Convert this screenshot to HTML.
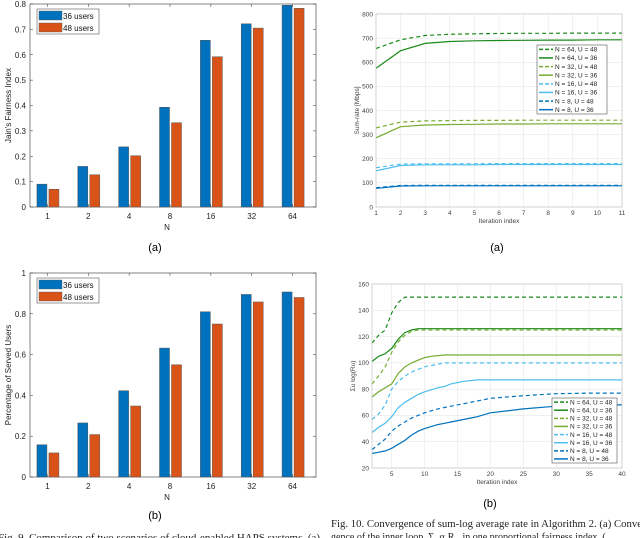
<!DOCTYPE html>
<html><head><meta charset="utf-8"><style>
body{margin:0;background:#fff;}
svg{display:block;font-family:"Liberation Sans",sans-serif;}
</style></head><body>
<svg id="fig" width="640" height="538" viewBox="0 0 640 538" xmlns="http://www.w3.org/2000/svg">
<rect width="640" height="538" fill="#fff"/>
<text x="155" y="251" font-size="11" text-anchor="middle">(a)</text>
<text x="155" y="519" font-size="11" text-anchor="middle">(b)</text>
<text x="497" y="251" font-size="11" text-anchor="middle">(a)</text>
<text x="490" y="507" font-size="11" text-anchor="middle">(b)</text>
<text x="-2" y="541" font-size="10" font-family="Liberation Serif,serif" fill="#222" textLength="322" lengthAdjust="spacingAndGlyphs">Fig. 9.  Comparison of two scenarios of cloud-enabled HAPS systems. (a)</text>
<text x="331" y="527" font-size="10" font-family="Liberation Serif,serif" fill="#222" textLength="318" lengthAdjust="spacingAndGlyphs">Fig. 10.  Convergence of sum-log average rate in Algorithm 2. (a) Conver-</text>
<text x="331" y="540" font-size="10" font-family="Liberation Serif,serif" fill="#222">gence of the inner loop, Σ<tspan font-size="6" dy="2">u</tspan><tspan dy="-2"> α</tspan><tspan font-size="6" dy="2">u</tspan><tspan dy="-2">R</tspan><tspan font-size="6" dy="2">u</tspan><tspan dy="-2">, in one proportional fairness index. (</tspan></text>
</svg>
<script>
const categories = ["1","2","4","8","16","32","64"];
const fairness36 = [0.09,0.16,0.237,0.393,0.657,0.722,0.795];
const fairness48 = [0.07,0.127,0.202,0.332,0.592,0.705,0.783];
const fairnessTicks = [0,0.1,0.2,0.3,0.4,0.5,0.6,0.7,0.8];
const served36 = [0.158,0.265,0.423,0.632,0.81,0.895,0.907];
const served48 = [0.118,0.208,0.348,0.55,0.75,0.858,0.88];
const servedTicks = [0,0.2,0.4,0.6,0.8,1];

const iterA = [1,2,3,4,5,6,7,8,9,10,11];
const rateN64U48 = [657,693,711,716,718,719,720,720,721,721,721];
const rateN64U36 = [575,648,678,686,689,690,691,692,692,693,693];
const rateN32U48 = [328,352,357,358,359,359,360,360,360,360,360];
const rateN32U36 = [287,333,340,342,343,344,344,345,345,345,345];
const rateN16U48 = [163,178,179,179,179,180,180,180,180,180,180];
const rateN16U36 = [150,172,175,175,175,176,176,176,176,176,176];
const rateN8U48 = [80,89,90,90,90,90,90,90,90,90,90];
const rateN8U36 = [77,87,88,88,88,88,88,88,88,88,88];
const rateYTicks = [0,100,200,300,400,500,600,700,800];

const iterB = [2,3,4,5,6,7,8,9,10,11,12,13,14,16,18,20,25,30,35,40];
const logN64U48 = [115,121,125,138,146,150,150,150,150,150,150,150,150,150,150,150,150,150,150,150];
const logN64U36 = [101,105,107,111,118,123,125,126,126,126,126,126,126,126,126,126,126,126,126,126];
const logN32U48 = [84,90,97,108,116,121,124,125,125,125,125,125,125,125,125,125,125,125,125,125];
const logN32U36 = [74,78,81,84,92,97,100,102,104,105,105.5,106,106,106,106,106,106,106,106,106];
const logN16U48 = [57,61,68,80,86,90,93,95,97,98,99,100,100,100,100,100,100,100,100,100];
const logN16U36 = [47,51,54,59,66,70,73,76,78,79.5,81,82,84,86,87,87,87,87,87,87];
const logN8U48 = [34,38,42,48,52,55,58,60,62,63.5,65,66,67,69,71,73,75,76.5,77,77];
const logN8U36 = [31,32,33,35,38,41,45,48,50,51.5,53,54,55,57,59,62,65,67,68,68];
const logXTicks = [5,10,15,20,25,30,35,40];
const logYTicks = [20,40,60,80,100,120,140,160];

const legendLabels = ["N = 64, U = 48","N = 64, U = 36","N = 32, U = 48","N = 32, U = 36","N = 16, U = 48","N = 16, U = 36","N = 8, U = 48","N = 8, U = 36"];

const NS="http://www.w3.org/2000/svg";
const svg=document.getElementById('fig');
function mk(tag,attrs,parent,text){const e=document.createElementNS(NS,tag);for(const k in attrs)e.setAttribute(k,attrs[k]);if(text!==undefined)e.textContent=text;(parent||svg).appendChild(e);return e;}
function lin(d0,d1,r0,r1){return v=>r0+(v-d0)*(r1-r0)/(d1-d0);}

function barChart(name,left,top,right,bottom,ymax,ticks,s1,s2,ylabel){
  const g=mk('g',{});
  
  
  const y=lin(0,ymax,bottom,top);
  const step=(right-left)/categories.length;
  const cx=i=>left+step*(i+0.5)-3;
  mk('rect',{x:left,y:top,width:right-left,height:bottom-top,fill:'none',stroke:'#333','stroke-width':0.6},g);
  ticks.forEach(t=>{
    const yy=y(t);
    mk('line',{x1:left,x2:left+3,y1:yy,y2:yy,stroke:'#333','stroke-width':0.5},g);
    mk('line',{x1:right-3,x2:right,y1:yy,y2:yy,stroke:'#333','stroke-width':0.5},g);
    const tl=mk('text',{x:left-4,y:yy+3,'font-size':8,'text-anchor':'end',fill:'#222'},g,String(t));
    
    
  });
  categories.forEach((c,i)=>{
    const b1=mk('rect',{x:cx(i)-10.5,y:y(s1[i]),width:10,height:bottom-y(s1[i]),fill:'#0072bd',stroke:'#555','stroke-width':0.5},g);
    
    
    const b2=mk('rect',{x:cx(i)+1.5,y:y(s2[i]),width:10,height:bottom-y(s2[i]),fill:'#d95319',stroke:'#555','stroke-width':0.5},g);
    
    
    mk('line',{x1:cx(i),x2:cx(i),y1:bottom,y2:bottom-3,stroke:'#333','stroke-width':0.5},g);
    mk('line',{x1:cx(i),x2:cx(i),y1:top,y2:top+3,stroke:'#333','stroke-width':0.5},g);
    const xl=mk('text',{x:cx(i),y:bottom+12,'font-size':8,'text-anchor':'middle',fill:'#222'},g,c);
    
    
  });
  const xt=mk('text',{x:(left+right)/2-6,y:bottom+23,'font-size':8,'text-anchor':'middle',fill:'#222'},g,'N');
  
  
  const yt=mk('text',{x:0,y:0,'font-size':8,'text-anchor':'middle',fill:'#222',transform:`translate(${left-19},${(top+bottom)/2}) rotate(-90)`},g,ylabel);
  
  
  const lg=mk('g',{},g);
  
  
  mk('rect',{x:left+7,y:top+5,width:62,height:25,fill:'#fff',stroke:'#333','stroke-width':0.5},lg);
  [['#0072bd','36 users'],['#d95319','48 users']].forEach((e,k)=>{
    mk('rect',{x:left+9,y:top+7+k*12,width:23,height:9,fill:e[0],stroke:'#555','stroke-width':0.4},lg);
    mk('text',{x:left+33,y:top+15+k*12,'font-size':8,fill:'#111'},lg,e[1]);
  });
}
barChart('fairness-bar-chart',30,4,316,207,0.8,fairnessTicks,fairness36,fairness48,"Jain's Fairness Index");
barChart('served-users-bar-chart',30,273,316,477,1,servedTicks,served36,served48,'Percentage of Served Users');

const lineColors=['#1a8a1a','#1a8a1a','#77ac30','#77ac30','#4dbeee','#4dbeee','#0072bd','#0072bd'];
const lineDash=['4,3','none','4,3','none','4,3','none','4,3','none'];
function lineChart(name,left,top,right,bottom,xd,yd,xticks,yticks,xs,series,xlabel,ylabel,leg){
  const g=mk('g',{});
  
  
  const x=lin(xd[0],xd[1],left,right), y=lin(yd[0],yd[1],bottom,top);
  mk('rect',{x:left,y:top,width:right-left,height:bottom-top,fill:'#fff'},g);
  xticks.forEach(t=>{
    mk('line',{x1:x(t),x2:x(t),y1:top,y2:bottom,stroke:'#e3e3e3','stroke-width':0.5},g);
    const tl=mk('text',{x:x(t),y:bottom+8,'font-size':6.5,'text-anchor':'middle',fill:'#444'},g,String(t));
    
    
  });
  yticks.forEach(t=>{
    mk('line',{x1:left,x2:right,y1:y(t),y2:y(t),stroke:'#e3e3e3','stroke-width':0.5},g);
    const tl=mk('text',{x:left-3,y:y(t)+2.3,'font-size':6.5,'text-anchor':'end',fill:'#444'},g,String(t));
    
    
  });
  series.forEach((s,k)=>{
    const p=mk('polyline',{points:s.map((v,i)=>x(xs[i]).toFixed(1)+','+y(v).toFixed(1)).join(' '),fill:'none',stroke:lineColors[k],'stroke-width':1.2,'stroke-dasharray':lineDash[k]},g);
    
    
  });
  mk('rect',{x:left,y:top,width:right-left,height:bottom-top,fill:'none',stroke:'#bbb','stroke-width':0.6},g);
  const xt=mk('text',{x:(left+right)/2,y:bottom+16,'font-size':6.5,'text-anchor':'middle',fill:'#444'},g,xlabel);
  
  
  const yt=mk('text',{x:0,y:0,'font-size':6.5,'text-anchor':'middle',fill:'#444',transform:`translate(${left-17},${(top+bottom)/2}) rotate(-90)`},g,ylabel);
  
  
  const lg=mk('g',{},g);
  
  
  mk('rect',{x:leg[0],y:leg[1],width:leg[2],height:leg[3],fill:'#fff',stroke:'#333','stroke-width':0.5},lg);
  const rh=leg[3]/8;
  legendLabels.forEach((l,k)=>{
    const yy=leg[1]+rh*(k+0.5);
    mk('line',{x1:leg[0]+2,x2:leg[0]+16,y1:yy,y2:yy,stroke:lineColors[k],'stroke-width':1.5,'stroke-dasharray':lineDash[k]=='none'?'none':'4,2'},lg);
    mk('text',{x:leg[0]+18,y:yy+2.3,'font-size':6.5,fill:'#222'},lg,l);
  });
}
lineChart('sum-rate-line-chart',376,14,622,207,[1,11],[0,800],iterA,rateYTicks,iterA,
  [rateN64U48,rateN64U36,rateN32U48,rateN32U36,rateN16U48,rateN16U36,rateN8U48,rateN8U36],
  'Iteration index','Sum-rate [Mbps]',[537,45,70,69]);
lineChart('sum-log-line-chart',372,284,622,468,[2,40],[20,160],logXTicks,logYTicks,iterB,
  [logN64U48,logN64U36,logN32U48,logN32U36,logN16U48,logN16U36,logN8U48,logN8U36],
  'Iteration index','Σu log(Ru)',[552,398,65,65]);
</script>
</body></html>
